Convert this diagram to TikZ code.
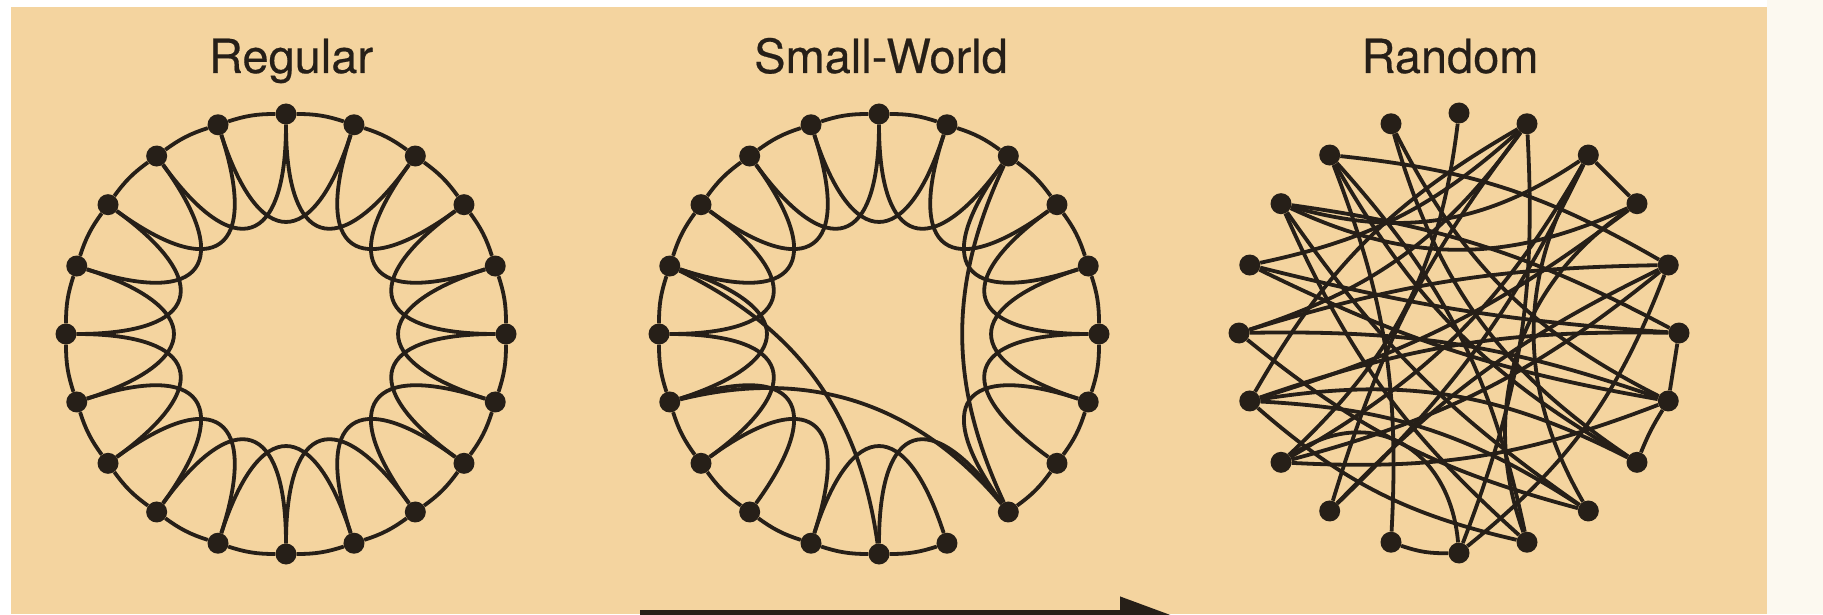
\documentclass[tikz,border=0pt]{standalone}
\usepackage{fontspec}
\setmainfont{TeX Gyre Heros}
\newfontfamily\ttlfont[FakeBold=0.4]{TeX Gyre Heros}
\usetikzlibrary{positioning,arrows.meta,calc}
\definecolor{Sand}{HTML}{F4D49F}
\definecolor{Ink}{HTML}{261F18}
\definecolor{Paper}{HTML}{FCF9F0}

\begin{document}
\begin{tikzpicture}[
  x=1pt,y=1pt,
  font=\ttlfont\fontsize{47}{52}\selectfont,
  dot/.style={circle,fill=Ink,inner sep=0pt,minimum size=21pt},
  ln/.style={draw=Ink,line width=3.8pt},
  rim/.style={ln,bend right=9},
  hop/.style={ln,distance=122pt},
  bl/.style={ln,bend left=#1},
  ttl/.style={anchor=base,text=Ink,inner sep=0pt},
  ar/.style={-{Triangle[length=52pt,width=34pt]},draw=Ink,line width=10pt},
]
% sand panel with a white margin top and left and a cream strip on the right;
% the three rings share radius and height, the arrow is cut by the lower edge
\useasboundingbox (0,0) rectangle (1823,614);
\clip (0,0) rectangle (1823,614);
\fill[white] (0,0) rectangle (1823,614);
\fill[Paper] (1767,0) rectangle (1823,614);
\fill[Sand] (11,0) rectangle (1767,607);

\coordinate (cR) at (286,280);
\coordinate (cS) at (879,280);
\coordinate (cN) at (1459,281);

\node[ttl] (tR) at (291,541) {Regular};
\node[ttl] (tS) at (881,541) {Small-World};
\node[ttl] (tN) at (1450,541) {Random};

\foreach \k [evaluate=\k as \ang using 90+18*\k] in {0,...,19}{
  \node[dot] (R\k) at ($(cR)+(\ang:220)$) {};
  \node[dot] (S\k) at ($(cS)+(\ang:220)$) {};
  \node[dot] (N\k) at ($(cN)+(\ang:220)$) {};
}

% regular: each node to its two neighbours on either side
\foreach \k [evaluate=\k as \nx using {int(mod(\k+1,20))},
             evaluate=\k as \nn using {int(mod(\k+2,20))},
             evaluate=\k as \outA using {270+18*\k},
             evaluate=\k as \inA using {306+18*\k}] in {0,...,19}{
  \draw[rim] (R\k) to (R\nx);
  \draw[hop] (R\k) to[out=\outA,in=\inA] (R\nn);
}

% small-world: the same ring with three links rewired
\foreach \k [evaluate=\k as \nx using {int(mod(\k+1,20))}]
    in {0,1,2,3,4,5,6,7,8,9,10,12,13,14,15,16,17,18,19}
  \draw[rim] (S\k) to (S\nx);
\foreach \k [evaluate=\k as \nn using {int(mod(\k+2,20))},
             evaluate=\k as \outA using {270+18*\k},
             evaluate=\k as \inA using {306+18*\k}]
    in {0,1,2,3,4,5,6,7,9,10,12,13,14,15,16,17,18,19}
  \draw[hop] (S\k) to[out=\outA,in=\inA] (S\nn);
\draw[bl=28] (S4) to (S10);
\draw[bl=32] (S6) to (S12);
\draw[bl=-25] (S18) to (S12);

% random
\foreach \p/\q/\w in {17/18/0,14/15/0,13/14/5,9/10/-10,3/17/-25,11/17/38,
    1/13/-20,1/14/-18,0/7/20,19/6/-15,19/8/-10,19/10/12,19/4/15,
    18/7/15,18/12/-30,2/11/15,2/13/-15,2/9/12,4/15/-5,4/14/-8,5/16/8,
    5/12/-12,5/14/10,6/15/10,6/12/15,7/16/-12,8/16/10,3/11/-12,3/15/10,
    10/16/-15,8/18/-10,19/5/18,16/2/-12,17/6/10,11/6/14,12/3/10,13/6/-18,
    14/7/12,18/3/25}
  \draw[bl=\w] (N\p) to (N\q);
\draw[ln] (N7) to[out=35,in=95,looseness=1.3] (N10);

\coordinate (aS) at (640,-1);
\coordinate (aE) at (1172,-1);
\draw[ar] (aS) -- (aE);
\end{tikzpicture}
\end{document}
